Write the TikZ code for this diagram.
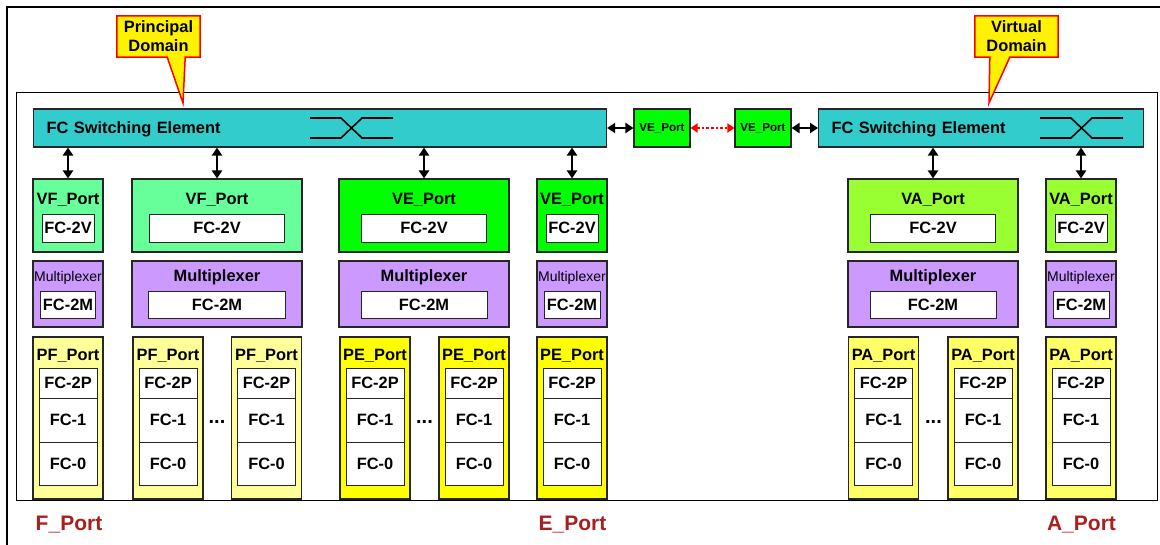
\documentclass[tikz,border=0pt]{standalone}
\usepackage{fontspec}
\setmainfont{Liberation Sans}
\usetikzlibrary{arrows.meta, backgrounds}
\definecolor{seteal}{HTML}{33CCCC}
\definecolor{vfgreen}{HTML}{66FF99}
\definecolor{vegreen}{HTML}{00FF00}
\definecolor{vagreen}{HTML}{99FF33}
\definecolor{muxlilac}{HTML}{CC99FF}
\definecolor{pfyellow}{HTML}{FFFF99}
\definecolor{peyellow}{HTML}{FFFF00}
\definecolor{payellow}{HTML}{FFFF66}
\definecolor{portred}{HTML}{AA1E1E}

\begin{document}
\begin{tikzpicture}[
    x=1pt, y=-1pt,
    every node/.style={font=\bfseries\fontsize{16.4}{19}\selectfont, inner sep=0pt},
    box/.style={draw=black!85, line width=1.1pt},
    sebox/.style={box, fill=seteal, minimum height=38, inner xsep=13,
                  align=left, anchor=west, text depth=0pt},
    vesmall/.style={box, fill=vegreen, minimum width=56, minimum height=38,
                    font=\bfseries\fontsize{11.6}{13}\selectfont},
    fcbox/.style={draw=black!85, line width=0.9pt, fill=white},
    mxsmall/.style={anchor=base, font=\fontsize{14}{16}\selectfont},
    mxbig/.style={anchor=base},
    dotsep/.style={font=\bfseries\fontsize{20}{22}\selectfont},
    portname/.style={anchor=base, text=portred, font=\bfseries\fontsize{21}{24}\selectfont},
    callout/.style={draw=red, line width=1.5pt, fill=yellow, line join=miter},
    link/.style={line width=2.4pt, {Triangle[length=8pt,width=10pt]}-{Triangle[length=8pt,width=10pt]}},
    redlink/.style={red, line width=2.6pt, dotted,
                    {Triangle[length=7pt,width=9pt]}-{Triangle[length=7pt,width=9pt]}},
  ]
  \useasboundingbox (0,0) rectangle (1160,544);

  \begin{scope}[on background layer]
    \draw[line width=2pt] (7,548) -- (7,7) -- (1164,7);
    \draw[line width=0.9pt] (16,92) rectangle (1157,500);
  \end{scope}

  % domain callouts
  \node[minimum width=83, minimum height=41, align=center] (pdom) at (158.5,36.5)
    {Principal\\Domain};
  \coordinate (ptip) at (183,103);
  \node[minimum width=83, minimum height=41, align=center] (vdom) at (1016.5,36.5)
    {Virtual\\Domain};
  \coordinate (vtip) at (989,103);
  \begin{scope}[on background layer]
    \draw[callout] (pdom.north west) -- (pdom.north east) -- (pdom.south east)
      -- ([xshift=-15]pdom.south east) -- (ptip) -- ([xshift=-33]pdom.south east)
      -- (pdom.south west) -- cycle;
    \draw[callout] (vdom.north west) -- (vdom.north east) -- (vdom.south east)
      -- ([xshift=35]vdom.south west) -- (vtip) -- ([xshift=15]vdom.south west)
      -- (vdom.south west) -- cycle;
  \end{scope}

  % switching elements
  \node[sebox, text width=547] (seL) at (33,128) {FC Switching Element};
  \node[sebox, text width=299] (seR) at (818,128) {FC Switching Element};
  \foreach \sx in {310,1040}
    \draw[line width=1.6pt] (\sx,118) -- ++(31,0) -- ++(21,20) -- ++(31,0)
                            (\sx,138) -- ++(31,0) -- ++(21,-20) -- ++(31,0);

  \node[vesmall] (veL) at (662,128) {VE\_Port};
  \node[vesmall] (veR) at (763,128) {VE\_Port};
  \draw[link] (seL.east) -- (veL.west);
  \draw[redlink] (veL.east) -- (veR.west);
  \draw[link] (veR.east) -- (seR.west);

  % virtual ports
  \foreach \n/\x/\w/\iw/\c/\t in {vf1/68/70/52/vfgreen/VF, vf2/217/170/135/vfgreen/VF,
      ve1/424/170/125/vegreen/VE, ve2/572/70/52/vegreen/VE,
      va1/933/170/125/vagreen/VA, va2/1081/70/52/vagreen/VA} {
    \node[box, fill=\c, minimum width=\w, minimum height=73] (\n) at (\x,215.5) {};
    \node[anchor=base] (\n lbl) at (\x,204) {\t\_Port};
    \node[fcbox, minimum width=\iw, minimum height=28] (\n fc) at (\x,228) {FC-2V};
  }

  % multiplexers
  \foreach \n/\x/\w/\iw/\s in {mx1/68/70/55/mxsmall, mx2/217/170/137/mxbig,
      mx3/424/170/126/mxbig, mx4/572/70/56/mxsmall,
      mx5/933/170/126/mxbig, mx6/1081/70/56/mxsmall} {
    \node[box, fill=muxlilac, minimum width=\w, minimum height=66] (\n) at (\x,294) {};
    \node[\s] (\n lbl) at (\x,281) {Multiplexer};
    \node[fcbox, minimum width=\iw, minimum height=27] (\n fc) at (\x,304.5) {FC-2M};
  }

  \foreach \n in {vf1,vf2,ve1,ve2}
    \draw[link] (\n.north |- seL.south) -- (\n.north);
  \foreach \n in {va1,va2}
    \draw[link] (\n.north |- seR.south) -- (\n.north);

  % physical ports
  \foreach \n/\x/\c/\t in {pf1/68/pfyellow/PF, pf2/168/pfyellow/PF, pf3/266.5/pfyellow/PF,
      pe1/375/peyellow/PE, pe2/474/peyellow/PE, pe3/572/peyellow/PE,
      pa1/883.5/payellow/PA, pa2/983/payellow/PA, pa3/1081/payellow/PA} {
    \node[box, fill=\c, minimum width=70, minimum height=162] (\n) at (\x,418) {};
    \node[anchor=base] (\n lbl) at (\x,360) {\t\_Port};
    \node[fcbox, minimum width=58, minimum height=30] (\n p) at (\x,383) {FC-2P};
    \node[fcbox, minimum width=58, minimum height=44] (\n a) at (\x,420) {FC-1};
    \node[fcbox, minimum width=58, minimum height=43] (\n b) at (\x,463.5) {FC-0};
  }
  \node[dotsep] (dotsF) at (217,422) {...};
  \node[dotsep] (dotsE) at (424.5,422) {...};
  \node[dotsep] (dotsA) at (933.5,422) {...};

  \node[portname] (fport) at (69,530) {F\_Port};
  \node[portname] (eport) at (572.5,530) {E\_Port};
  \node[portname] (aport) at (1081.5,530) {A\_Port};
\end{tikzpicture}
\end{document}
